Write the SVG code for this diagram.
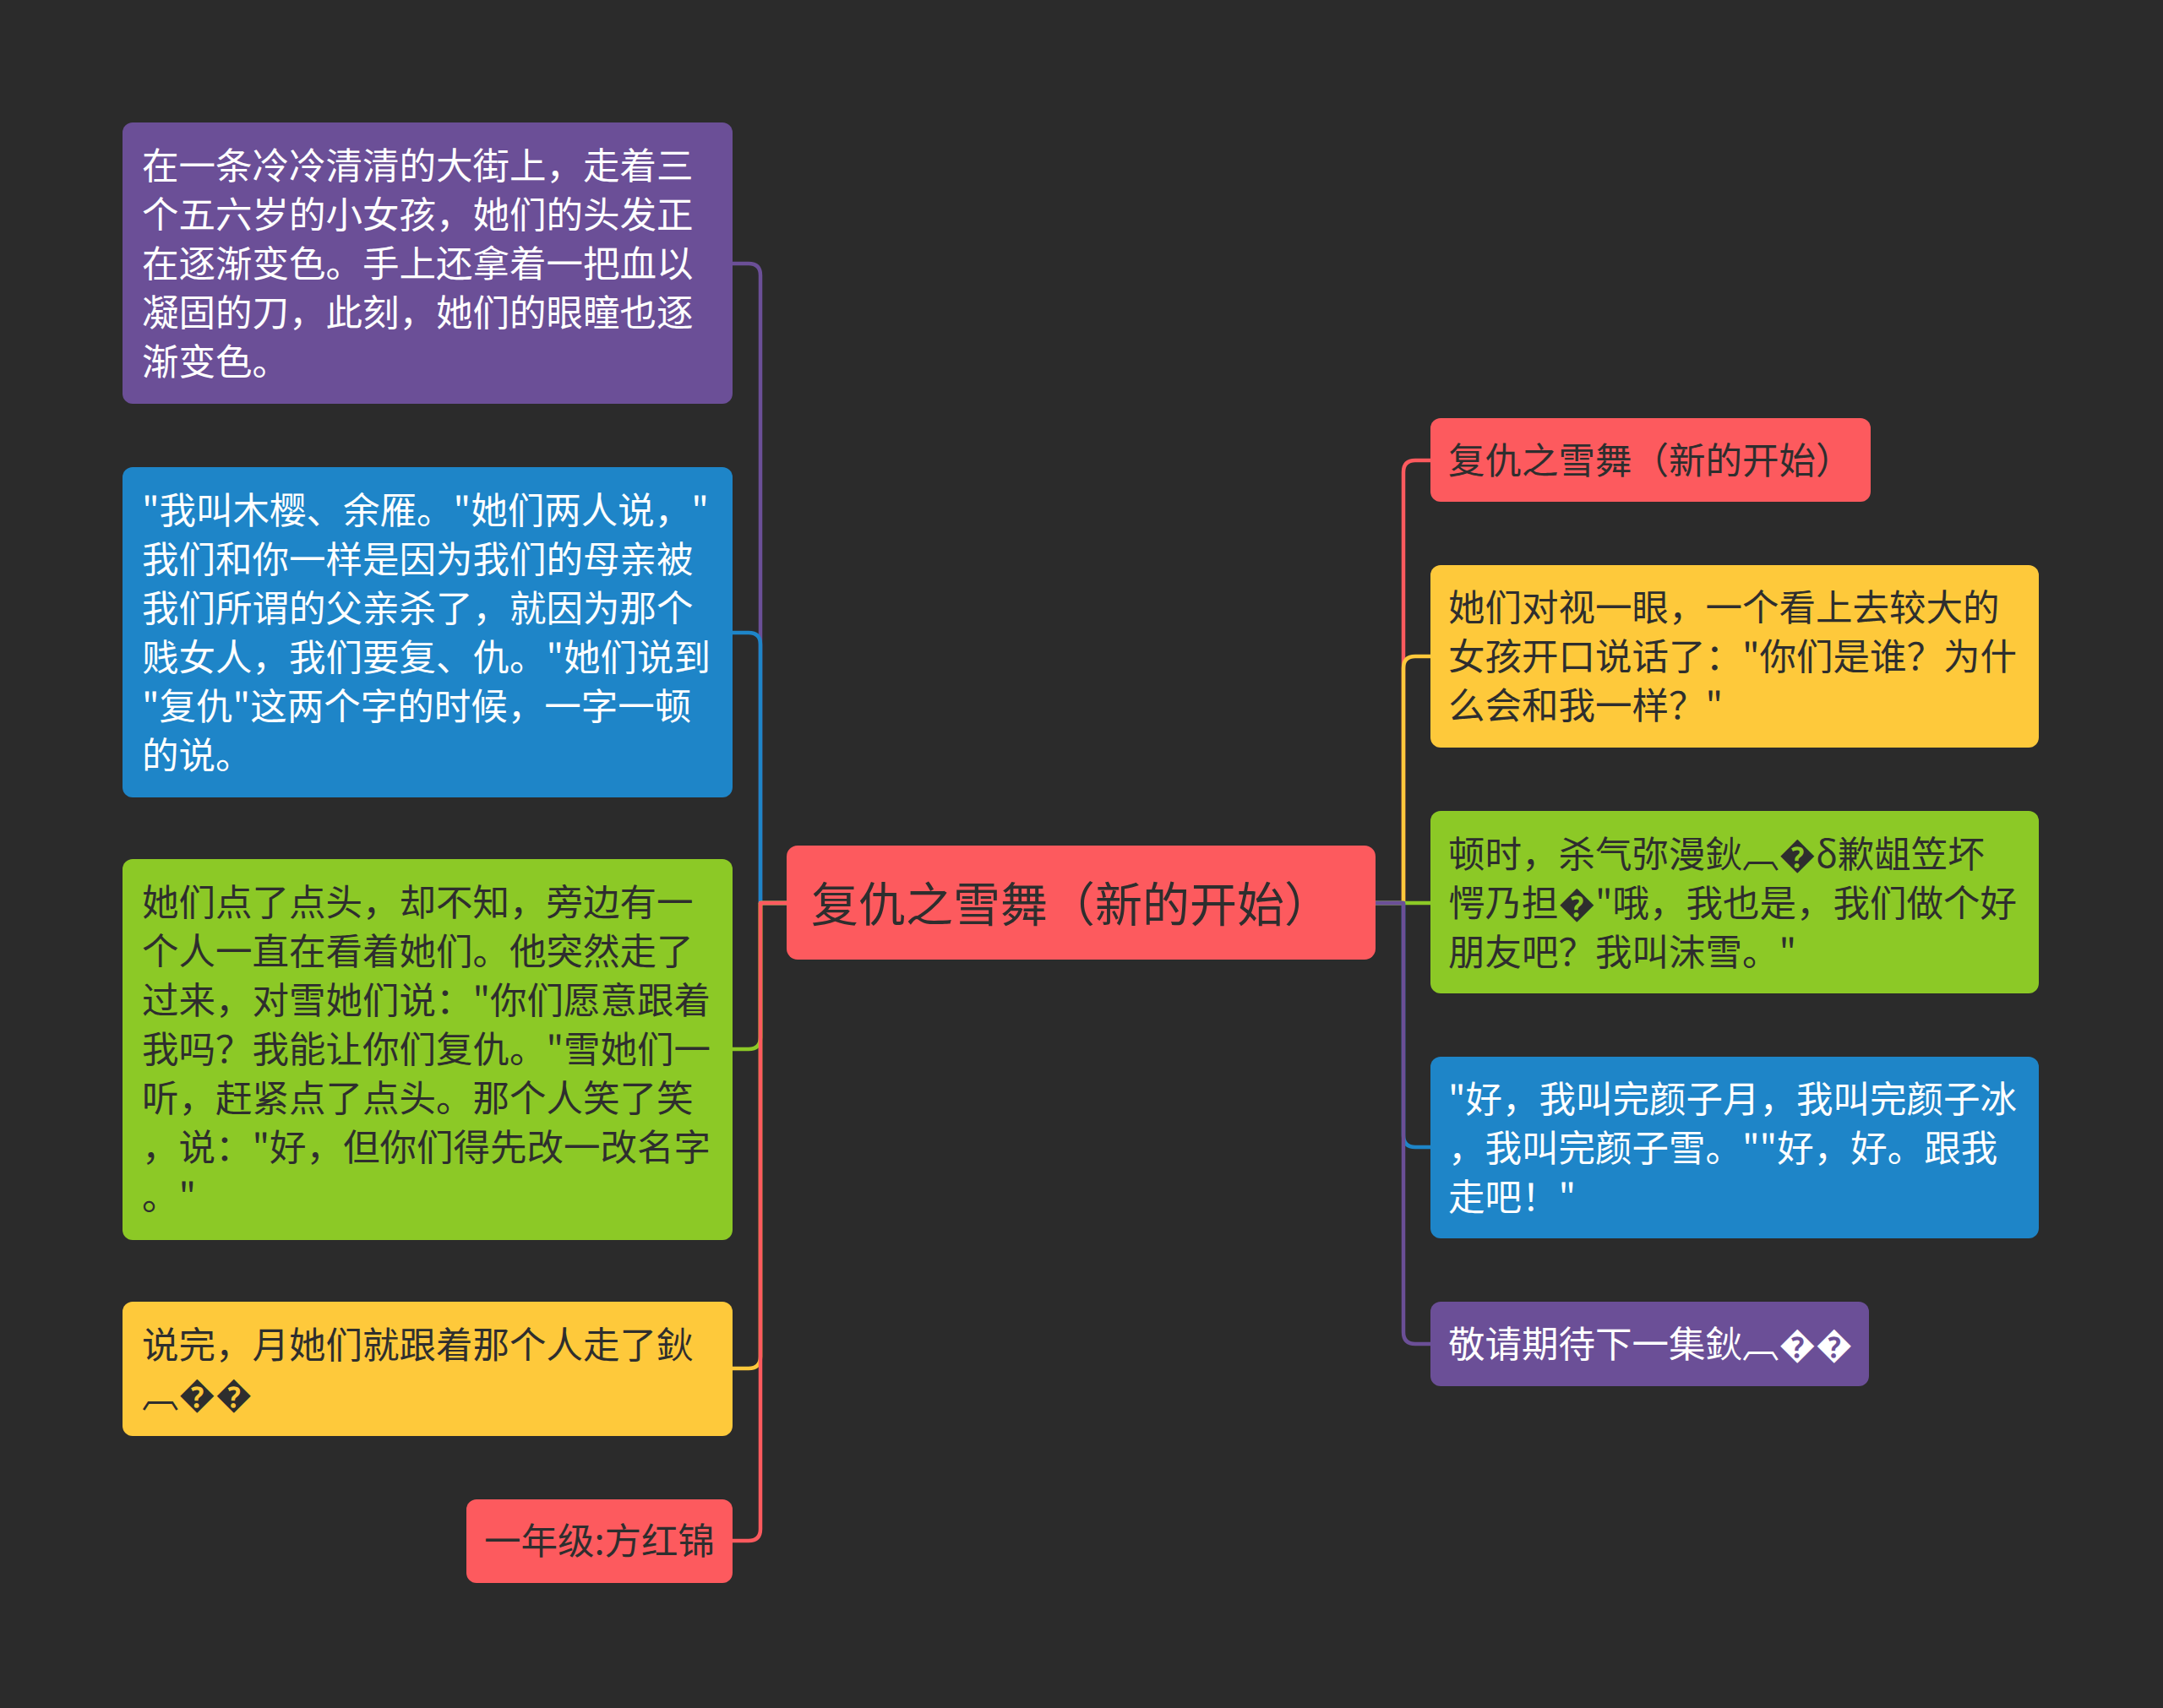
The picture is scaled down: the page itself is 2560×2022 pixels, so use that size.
<svg xmlns="http://www.w3.org/2000/svg" width="2560" height="2022" viewBox="0 0 2560 2022">
<style>
.t{font-family:"Noto Sans CJK SC","Noto Sans",sans-serif;font-size:43.5px;dominant-baseline:central;transform:translate(0px,-3px)}
.c{font-size:56px}
.w{fill:#ffffff}
.d{fill:#2e2e2e}
.l{fill:none;stroke-width:4.5;stroke-linejoin:round;stroke-linecap:round}
</style>
<rect x="0" y="0" width="2560" height="2022" fill="#2b2b2b"/>
<g id="connectors">
<path class="l" stroke="#6b4f97" d="M931,1069 H900 V326 Q900,312 886,312 H867"/>
<path class="l" stroke="#1e85c8" d="M931,1069 H900 V763 Q900,749 886,749 H867"/>
<path class="l" stroke="#8cc926" d="M931,1069 H900 V1228 Q900,1242 886,1242 H867"/>
<path class="l" stroke="#fec93b" d="M931,1069 H900 V1606 Q900,1620 886,1620 H867"/>
<path class="l" stroke="#fd5a5e" d="M931,1069 H900 V1810 Q900,1824 886,1824 H867"/>
<path class="l" stroke="#fd5a5e" d="M1628,1069 H1661 V559 Q1661,545 1675,545 H1693"/>
<path class="l" stroke="#fec93b" d="M1628,1069 H1661 V791 Q1661,777 1675,777 H1693"/>
<path class="l" stroke="#8cc926" d="M1628,1069 H1693"/>
<path class="l" stroke="#1e85c8" d="M1628,1069 H1661 V1344 Q1661,1358 1675,1358 H1693"/>
<path class="l" stroke="#6b4f97" d="M1628,1069 H1661 V1577 Q1661,1591 1675,1591 H1693"/>
</g>
<g id="center">
<rect x="931" y="1001" width="697" height="135" rx="13" fill="#fd5a5e"/>
<text class="t c d" x="960" y="1069">复仇之雪舞（新的开始）</text>
</g>
<g id="l1">
<rect x="145" y="145" width="722" height="333" rx="12" fill="#6b4f97"/>
<text class="t w" x="168" y="196">在一条冷冷清清的大街上，走着三</text>
<text class="t w" x="168" y="254">个五六岁的小女孩，她们的头发正</text>
<text class="t w" x="168" y="312">在逐渐变色。手上还拿着一把血以</text>
<text class="t w" x="168" y="370">凝固的刀，此刻，她们的眼瞳也逐</text>
<text class="t w" x="168" y="428">渐变色。</text>
</g>
<g id="l2">
<rect x="145" y="553" width="722" height="391" rx="12" fill="#1e85c8"/>
<text class="t w" x="168" y="604">"我叫木樱、余雁。"她们两人说，"</text>
<text class="t w" x="168" y="662">我们和你一样是因为我们的母亲被</text>
<text class="t w" x="168" y="720">我们所谓的父亲杀了，就因为那个</text>
<text class="t w" x="168" y="778">贱女人，我们要复、仇。"她们说到</text>
<text class="t w" x="168" y="836">"复仇"这两个字的时候，一字一顿</text>
<text class="t w" x="168" y="894">的说。</text>
</g>
<g id="l3">
<rect x="145" y="1017" width="722" height="451" rx="12" fill="#8cc926"/>
<text class="t d" x="168" y="1068">她们点了点头，却不知，旁边有一</text>
<text class="t d" x="168" y="1126">个人一直在看着她们。他突然走了</text>
<text class="t d" x="168" y="1184">过来，对雪她们说："你们愿意跟着</text>
<text class="t d" x="168" y="1242">我吗？我能让你们复仇。"雪她们一</text>
<text class="t d" x="168" y="1300">听，赶紧点了点头。那个人笑了笑</text>
<text class="t d" x="168" y="1358">，说："好，但你们得先改一改名字</text>
<text class="t d" x="168" y="1416">。"</text>
</g>
<g id="l4">
<rect x="145" y="1541" width="722" height="159" rx="12" fill="#fec93b"/>
<text class="t d" x="168" y="1592">说完，月她们就跟着那个人走了鈥</text>
<text class="t d" x="168" y="1650">︹��</text>
</g>
<g id="l5">
<rect x="552" y="1775" width="315" height="99" rx="12" fill="#fd5a5e"/>
<text class="t d" x="573" y="1824">一年级:方红锦</text>
</g>
<g id="r1">
<rect x="1693" y="495" width="521" height="99" rx="12" fill="#fd5a5e"/>
<text class="t d" x="1714" y="545">复仇之雪舞（新的开始）</text>
</g>
<g id="r2">
<rect x="1693" y="669" width="720" height="216" rx="12" fill="#fec93b"/>
<text class="t d" x="1714" y="719">她们对视一眼，一个看上去较大的</text>
<text class="t d" x="1714" y="777">女孩开口说话了："你们是谁？为什</text>
<text class="t d" x="1714" y="835">么会和我一样？"</text>
</g>
<g id="r3">
<rect x="1693" y="960" width="720" height="216" rx="12" fill="#8cc926"/>
<text class="t d" x="1714" y="1011">顿时，杀气弥漫鈥︹�δ歉龃笠坏</text>
<text class="t d" x="1714" y="1069">愕乃担�"哦，我也是，我们做个好</text>
<text class="t d" x="1714" y="1127">朋友吧？我叫沫雪。"</text>
</g>
<g id="r4">
<rect x="1693" y="1251" width="720" height="215" rx="12" fill="#1e85c8"/>
<text class="t w" x="1714" y="1301">"好，我叫完颜子月，我叫完颜子冰</text>
<text class="t w" x="1714" y="1359">，我叫完颜子雪。""好，好。跟我</text>
<text class="t w" x="1714" y="1417">走吧！"</text>
</g>
<g id="r5">
<rect x="1693" y="1541" width="519" height="100" rx="12" fill="#6b4f97"/>
<text class="t w" x="1714" y="1591">敬请期待下一集鈥︹��</text>
</g>
</svg>
